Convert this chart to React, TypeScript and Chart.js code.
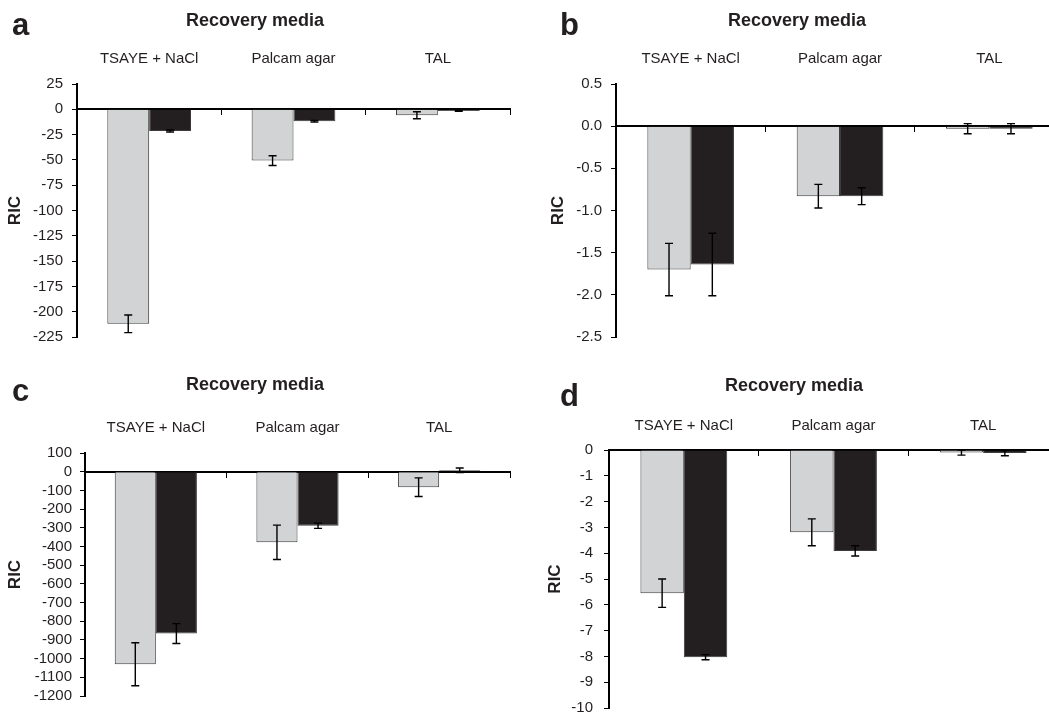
import React, { useEffect, useRef } from 'react';
import { Chart, registerables } from 'chart.js';

Chart.register(...registerables);

// ---------- data ----------
const categories = ['TSAYE + NaCl', 'Palcam agar', 'TAL'];
const chartTitle = 'Recovery media';
const yAxisTitle = 'RIC';
const panelLetters = ['a', 'b', 'c', 'd'];

// panel a
const grayA = [-212, -50.7, -5.9];
const grayErrA = [8.7, 4.8, 3.5];
const blackA = [-21.5, -11.9, -1.6];
const blackErrA = [1, 0.8, 0.3];
const yRangeA = [-225, 25, 25]; // min, max, step

// panel b
const grayB = [-1.7, -0.83, -0.03];
const grayErrB = [0.31, 0.14, 0.06];
const blackB = [-1.64, -0.83, -0.03];
const blackErrB = [0.37, 0.1, 0.06];
const yRangeB = [-2.5, 0.5, 0.5];

// panel c
const grayC = [-1030, -378, -83];
const grayErrC = [115, 92, 50];
const blackC = [-866, -289, 8];
const blackErrC = [53, 14, 12];
const yRangeC = [-1200, 100, 100];

// panel d
const grayD = [-5.55, -3.19, -0.1];
const grayErrD = [0.55, 0.52, 0.1];
const blackD = [-8.03, -3.91, -0.12];
const blackErrD = [0.1, 0.2, 0.1];
const yRangeD = [-10, 0, 1];

// ---------- styles ----------
const FONT = '"Liberation Sans", Arial, Helvetica, sans-serif';
const TEXT = '#231f20';
const GRAY = '#d1d3d4';
const BLACK = '#231f20';
const EDGE = '#3c3c3c';

type Spec = {
  letter: string;
  left: number; top: number; w: number; h: number;
  yW: number; padR: number; padB: number;
  titlePadTop: number; xH: number; xPad: number;
  ricPad: number; tickPad: number; decimals: number;
  gray: number[]; grayErr: number[]; black: number[]; blackErr: number[];
  range: number[];
  letterLeft: number; letterTop: number;
};

const specs: Spec[] = [
  { letter: panelLetters[0], left: 0, top: 0, w: 524, h: 350, yW: 77, padR: 14, padB: 13,
    titlePadTop: 10.2, xH: 52.2, xPad: 16, ricPad: 4.8, tickPad: 9, decimals: 0,
    gray: grayA, grayErr: grayErrA, black: blackA, blackErr: blackErrA, range: yRangeA,
    letterLeft: 12, letterTop: 10 },
  { letter: panelLetters[1], left: 530, top: 0, w: 546, h: 350, yW: 86, padR: 12, padB: 13,
    titlePadTop: 10.2, xH: 52.2, xPad: 16, ricPad: 18.3, tickPad: 9, decimals: 1,
    gray: grayB, grayErr: grayErrB, black: blackB, blackErr: blackErrB, range: yRangeB,
    letterLeft: 560, letterTop: 10 },
  { letter: panelLetters[2], left: 0, top: 360, w: 536, h: 350, yW: 85, padR: 26, padB: 14,
    titlePadTop: 14.2, xH: 57.2, xPad: 16, ricPad: 4.8, tickPad: 8, decimals: 0,
    gray: grayC, grayErr: grayErrC, black: blackC, blackErr: blackErrC, range: yRangeC,
    letterLeft: 12, letterTop: 376 },
  { letter: panelLetters[3], left: 530, top: 360, w: 536, h: 362, yW: 79, padR: 8, padB: 14,
    titlePadTop: 15.5, xH: 52.9, xPad: 15.3, ricPad: 14.8, tickPad: 11, decimals: 0,
    gray: grayD, grayErr: grayErrD, black: blackD, blackErr: blackErrD, range: yRangeD,
    letterLeft: 560, letterTop: 381 },
];

const errorBarPlugin = {
  id: 'errorBars',
  afterDatasetsDraw(chart: any) {
    const { ctx } = chart;
    const yScale = chart.scales.y;
    chart.data.datasets.forEach((ds: any, i: number) => {
      const meta = chart.getDatasetMeta(i);
      meta.data.forEach((bar: any, j: number) => {
        const v = ds.data[j];
        const e = ds.errors[j];
        const yTop = yScale.getPixelForValue(v + e);
        const yBot = yScale.getPixelForValue(v - e);
        ctx.save();
        ctx.strokeStyle = '#000';
        ctx.lineWidth = 1.4;
        ctx.beginPath();
        ctx.moveTo(bar.x, yTop);
        ctx.lineTo(bar.x, yBot);
        ctx.moveTo(bar.x - 4, yTop);
        ctx.lineTo(bar.x + 4, yTop);
        ctx.moveTo(bar.x - 4, yBot);
        ctx.lineTo(bar.x + 4, yBot);
        ctx.stroke();
        ctx.restore();
      });
    });
  },
};

function Panel({ spec }: { spec: Spec }) {
  const ref = useRef<HTMLCanvasElement>(null);
  useEffect(() => {
    if (!ref.current) return;
    const [yMin, yMax, yStep] = spec.range;
    const chart = new Chart(ref.current, {
      type: 'bar',
      data: {
        labels: categories,
        datasets: [
          {
            data: spec.gray,
            errors: spec.grayErr,
            backgroundColor: GRAY,
            borderColor: EDGE,
            borderWidth: 1,
            barPercentage: 1,
            categoryPercentage: 0.58,
          } as any,
          {
            data: spec.black,
            errors: spec.blackErr,
            backgroundColor: BLACK,
            borderColor: EDGE,
            borderWidth: 1,
            barPercentage: 1,
            categoryPercentage: 0.58,
          } as any,
        ],
      },
      options: {
        responsive: false,
        animation: false,
        devicePixelRatio: 1,
        layout: { padding: { left: 0, top: 0, right: spec.padR, bottom: spec.padB } },
        plugins: {
          legend: { display: false },
          tooltip: { enabled: false },
          title: {
            display: true,
            text: chartTitle,
            color: TEXT,
            font: { family: FONT, size: 18, weight: 'bold' },
            padding: { top: spec.titlePadTop, bottom: 0 },
          },
        },
        scales: {
          x: {
            type: 'category',
            position: 'top',
            offset: true,
            grid: { display: false, drawTicks: false },
            border: { display: false },
            ticks: {
              color: TEXT,
              font: { family: FONT, size: 15 },
              padding: spec.xPad,
              maxRotation: 0,
              autoSkip: false,
            },
            afterFit: (s: any) => {
              s.height = spec.xH;
              s.paddingLeft = 0;
              s.paddingRight = 0;
            },
          },
          x2: {
            type: 'category',
            position: { y: 0 },
            offset: true,
            z: 1,
            grid: { offset: true, drawOnChartArea: false, drawTicks: true, tickLength: 5, color: '#000', lineWidth: 1 },
            border: { display: true, color: '#000', width: 2 },
            ticks: { display: false },
            afterFit: (s: any) => {
              s.height = 0;
              s.paddingLeft = 0;
              s.paddingRight = 0;
            },
          } as any,
          y: {
            type: 'linear',
            min: yMin,
            max: yMax,
            grid: { display: true, drawOnChartArea: false, drawTicks: true, tickLength: 5, color: '#000', lineWidth: 1 },
            border: { display: true, color: '#000', width: 2 },
            ticks: {
              stepSize: yStep,
              autoSkip: false,
              color: TEXT,
              font: { family: FONT, size: 15 },
              padding: spec.tickPad,
              callback: (v: any) => Number(v).toFixed(spec.decimals),
            },
            title: {
              display: true,
              text: yAxisTitle,
              color: TEXT,
              font: { family: FONT, size: 17, weight: 'bold' },
              padding: { top: spec.ricPad, bottom: 0 },
            },
            afterFit: (s: any) => {
              s.width = spec.yW;
              s.paddingTop = 0;
              s.paddingBottom = 0;
            },
          },
        },
      } as any,
      plugins: [errorBarPlugin],
    });
    return () => chart.destroy();
  }, [spec]);

  return (
    <>
      <canvas
        ref={ref}
        width={spec.w}
        height={spec.h}
        style={{ position: 'absolute', left: spec.left, top: spec.top, width: spec.w, height: spec.h }}
      />
      <div
        style={{
          position: 'absolute',
          left: spec.letterLeft,
          top: spec.letterTop,
          fontFamily: FONT,
          fontWeight: 'bold',
          fontSize: 31,
          lineHeight: '30px',
          color: TEXT,
        }}
      >
        {spec.letter}
      </div>
    </>
  );
}

export default function App() {
  return (
    <div
      style={{
        position: 'fixed',
        left: 0,
        top: 0,
        width: 1049,
        height: 715,
        overflow: 'hidden',
        background: '#fff',
      }}
    >
      {specs.map((s) => (
        <Panel key={s.letter} spec={s} />
      ))}
    </div>
  );
}
